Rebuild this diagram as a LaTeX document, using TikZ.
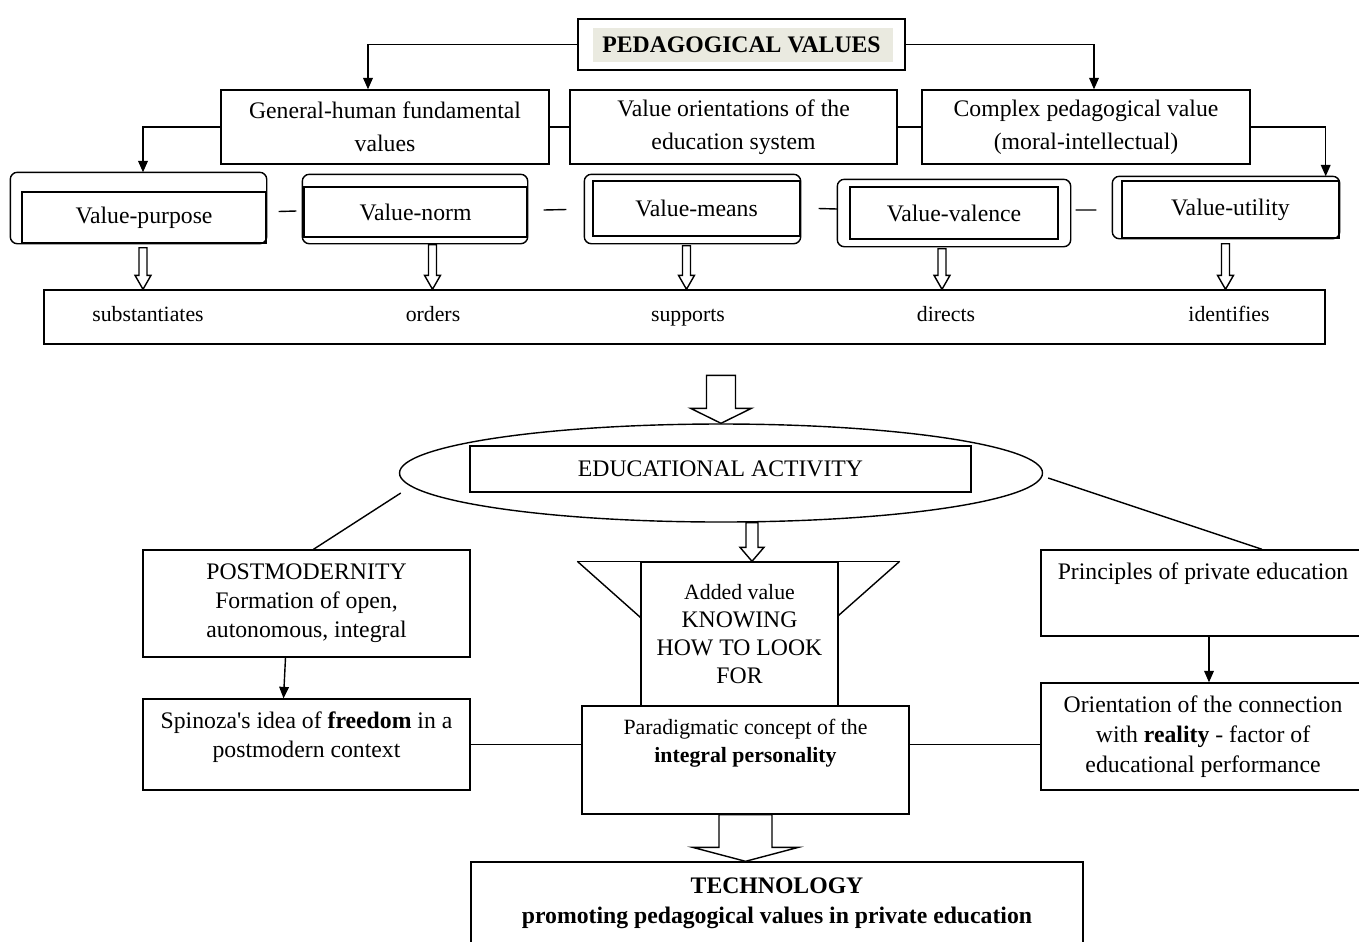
\documentclass[tikz,border=0pt]{standalone}
\usepackage{fontspec}
\setmainfont{Liberation Serif}
\usepackage{tikz}
\usepackage{xcolor}
\usetikzlibrary{arrows.meta,shapes,calc,positioning}
\definecolor{pvfill}{RGB}{234,234,224}
\newcommand{\hollowarr}[5]{%
\draw[fill=white]($(#1)+(-#3,0)$)--($(#2)+(-#3,-#5)$)--($(#2)+(-#4,-#5)$)--(#2)--($(#2)+(#4,-#5)$)--($(#2)+(#3,-#5)$)--($(#1)+(#3,0)$)--cycle;}

\begin{document}
\begin{tikzpicture}[x=0.02cm,y=-0.02cm,line width=0.8pt,>={Triangle[length=6.5pt,width=5.5pt]},
every node/.style={font=\fontsize{13.5}{16.5}\selectfont},
bx/.style 2 args={draw,minimum width=#1*0.02cm,minimum height=#2*0.02cm,inner sep=0pt,align=center},
toprow/.style={font=\fontsize{13.5}{19}\selectfont},
small/.style={font=\fontsize{12.4}{16}\selectfont},
word/.style={small,anchor=base},
toptext/.style={anchor=north,align=center,yshift=-4pt}]
\useasboundingbox[fill=white](0,0)rectangle(1359,941);
\node[bx={327}{51},font=\bfseries\fontsize{13.5}{16.5}\selectfont,
path picture={\fill[pvfill]($(path picture bounding box.north west)+(15,9)$)rectangle($(path picture bounding box.south east)+(-12,-8)$);}]
(pv) at (741.5,44.5) {PEDAGOGICAL VALUES};
\node[bx={328}{74},toprow](gh) at (385,127) {General-human fundamental\\values};
\node[bx={327}{74},toprow](vo) at (733.5,127) {Value orientations of the\\education system};
\node[bx={328}{74},toprow](cp) at (1086,127) {Complex pedagogical value\\(moral-intellectual)};
\draw[->](pv.west)-|($(gh.north)+(-17,0)$);
\draw[->](pv.east)-|($(cp.north)+(8,0)$);
\draw(gh.east)--(vo.west);
\draw(vo.east)--(cp.west);

\node[bx={244}{51}](vp) at (144,217.5) {Value-purpose};
\node[bx={223}{50}](vn) at (415.5,212) {Value-norm};
\node[bx={207}{55}](vm) at (696.5,208.5) {Value-means};
\node[bx={208}{52}](vv) at (954,213) {Value-valence};
\node[bx={217}{57}](vu) at (1230.5,209.5) {Value-utility};
\draw[rounded corners=4pt]($(vp.north west)+(-11,-19)$)rectangle(vp.south east);
\draw[rounded corners=4pt]($(vn.north west)+(-1,-12)$)rectangle($(vn.south east)+(0,6)$);
\draw[rounded corners=4pt]($(vm.north west)+(-8,-6)$)rectangle($(vm.south east)+(0,7)$);
\draw[rounded corners=4pt]($(vv.north west)+(-12,-7)$)rectangle($(vv.south east)+(12,7)$);
\draw[rounded corners=4pt]($(vu.north west)+(-9,-4)$)rectangle(vu.south east);
\draw[->](gh.west)-|($(vp.north)+(-1,-19)$);
\draw[->](cp.east)-|($(vu.north east)+(-14,-4)$);
\draw($(vp.east)+(12,-6)$)--($(vn.west)+(-7,-1)$);
\draw($(vn.east)+(16,-2)$)--($(vm.west)+(-26,1)$);
\draw($(vm.east)+(18,0)$)--($(vv.west)+(-12,-4)$);
\draw($(vv.east)+(17,-3)$)--($(vu.west)+(-25,0.5)$);

\node[bx={1281}{54}](lb) at (684.5,317) {};
\node[word](w1) at (148,321) {substantiates};
\node[word](w2) at (433,321) {orders};
\node[word](w3) at (688,321) {supports};
\node[word](w4) at (946,321) {directs};
\node[word](w5) at (1229,321) {identifies};
\coordinate(a1) at ($(vp.south)+(-1,4)$);
\coordinate(a2) at ($(vn.south)+(17,7)$);
\coordinate(a3) at ($(vm.south)+(-10,9)$);
\coordinate(a4) at ($(vv.south)+(-12,9)$);
\coordinate(a5) at ($(vu.south)+(-5,5)$);
\foreach \s in {a1,a2,a3,a4,a5}{
\coordinate(t\s) at (\s |- lb.north);
\hollowarr{\s}{t\s}{4}{8}{14}}

\node[draw,ellipse,minimum width=643*0.02cm,minimum height=98*0.02cm,inner sep=0pt](ea) at (721,473) {};
\node[bx={501}{46}](eat) at (720.5,469) {EDUCATIONAL ACTIVITY};
\coordinate(b1) at ($(ea.north)+(0,-48)$);
\hollowarr{b1}{ea.north}{14.5}{30.5}{15}

\node[bx={327}{107}](pm) at (306.5,603.5) {POSTMODERNITY\\Formation of open,\\autonomous, integral};
\node[bx={327}{91},label={[toptext]north:{Spinoza\textquotesingle s idea of \textbf{freedom} in a\\postmodern context}}](sp) at (306.5,744.5) {};
\node[bx={324}{86},label={[toptext]north:{Principles of private education}}](pr) at (1203,593) {};
\node[bx={324}{107},font=\fontsize{13.5}{17}\selectfont](ori) at (1203,736.5) {Orientation of the connection\\with \textbf{reality} - factor of\\educational performance};
\draw($(ea.west)+(2,20)$)--($(pm.north)+(7,0)$);
\draw($(ea.east)+(5,5)$)--($(pr.north)+(59,0)$);
\draw[->]($(pm.south)+(-21,0)$)--($(sp.north)+(-23,0)$);
\draw[->]($(pr.south)+(6,0)$)--($(ori.north)+(6,0)$);

\node[bx={197}{144},font=\fontsize{13.5}{16}\selectfont](av) at (739.5,634) {{\fontsize{12.4}{16}\selectfont Added value}\\KNOWING\\HOW TO LOOK\\FOR};
\draw($(av.north west)+(-63,0)$)--($(av.north east)+(61,0)$);
\draw($(av.north west)+(-63,0)$)--($(av.north west)+(0,56)$);
\draw($(av.north east)+(61,0)$)--($(av.north east)+(0,54)$);
\coordinate(t6) at ($(av.north)+(12.5,0)$);
\coordinate(s6) at (ea.south -| t6);
\hollowarr{s6}{t6}{6}{12}{14}

\node[bx={327}{108},label={[toptext,small]north:{Paradigmatic concept of the\\\textbf{integral personality}}}](pp) at (745.5,760) {};
\draw(sp.east)--(sp.east -| pp.west);
\draw(sp.east -| pp.east)--(sp.east -| ori.west);

\node[bx={612}{83},font=\bfseries\fontsize{13.5}{17}\selectfont](tech) at (777,903.5) {TECHNOLOGY\\promoting pedagogical values in private education};
\coordinate(t7) at (pp.south |- tech.north);
\hollowarr{pp.south}{t7}{26.5}{53}{14}
\end{tikzpicture}
\end{document}
